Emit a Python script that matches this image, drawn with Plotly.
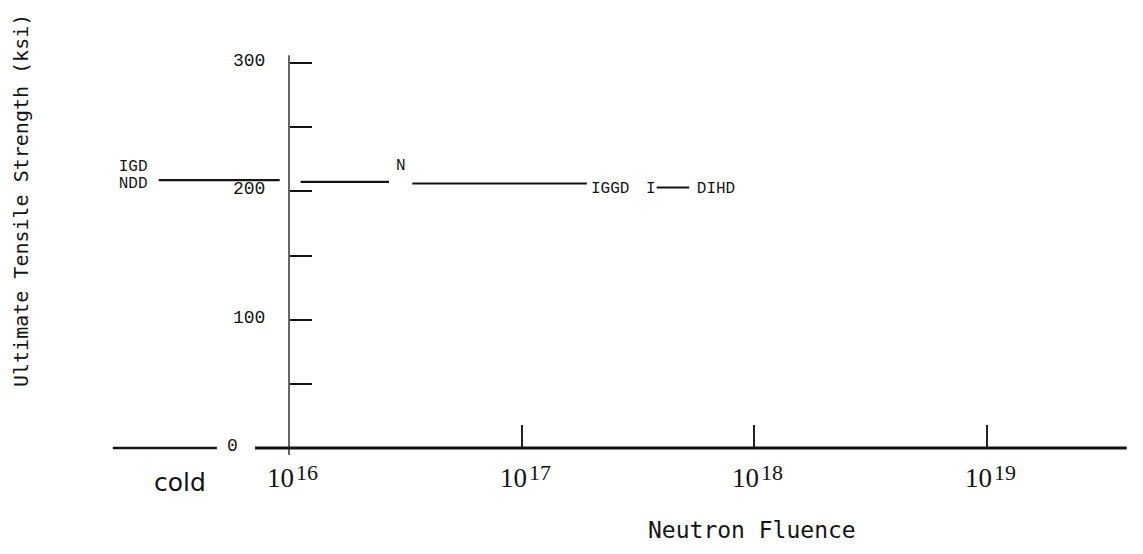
import plotly.graph_objects as go

# ---------------- data ----------------
# horizontal UTS segments (x in log10 of neutron fluence, "cold" region left of 1e16)
seg_x_start = [15.44, 16.05, 16.53, 17.58]
seg_x_end = [15.96, 16.43, 17.28, 17.72]
seg_uts = [208.8, 207.3, 206.1, 203.0]

# specimen letter markers
point_labels = ["IGD", "NDD", "N", "IGGD", "I", "DIHD"]
point_x = [15.33, 15.33, 16.48, 17.38, 17.555, 17.835]
point_uts = [219.0, 205.5, 219.5, 201.5, 201.5, 201.5]

y_tick_vals = [0, 50, 100, 150, 200, 250, 300]
y_label_vals = [100, 200, 300]
y_label_text = ["100", "200", "300"]
x_decades = [16, 17, 18, 19]
x_exponents = ["16", "17", "18", "19"]
cold_pos = 15.53
cold_text = "cold"

INK = "#141414"
W, H = 1135, 546   # page adds an 8px body margin

fig = go.Figure()

xs, ys = [], []
for a, b, v in zip(seg_x_start, seg_x_end, seg_uts):
    xs += [a, b, None]
    ys += [v, v, None]
fig.add_trace(go.Scatter(x=xs, y=ys, mode="lines",
                         line=dict(color=INK, width=2.2),
                         hoverinfo="skip", showlegend=False))

fig.add_trace(go.Scatter(x=point_x, y=point_uts, mode="text", text=point_labels,
                         textfont=dict(family="Liberation Mono", size=16, color=INK),
                         textposition="middle center", showlegend=False,
                         hoverinfo="skip"))

# axis lines (broken x axis like the original)
shapes = [
    dict(type="line", xref="x", yref="y", x0=16, x1=16, y0=-5.5, y1=306,
         line=dict(color="#333", width=1.5)),
    dict(type="line", xref="x", yref="y", x0=15.243, x1=15.69, y0=0, y1=0,
         line=dict(color=INK, width=2.6)),
    dict(type="line", xref="x", yref="y", x0=15.854, x1=19.60, y0=0, y1=0,
         line=dict(color=INK, width=2.8)),
]

ann = []
for v, t in zip(y_label_vals, y_label_text):
    ann.append(dict(x=16, y=v, xref="x", yref="y", text=t, showarrow=False,
                    xanchor="right", xshift=-22, yshift=2,
                    font=dict(family="Liberation Mono", size=18, color=INK)))
ann.append(dict(x=16, y=0, xref="x", yref="y", text="0", showarrow=False,
                xanchor="center", xshift=-57, yshift=2,
                font=dict(family="Liberation Mono", size=18, color=INK)))

for d, e in zip(x_decades, x_exponents):
    ann.append(dict(x=d, y=0, xref="x", yref="y", text="10", showarrow=False,
                    xanchor="right", yanchor="middle", xshift=7, yshift=-30,
                    font=dict(family="Liberation Serif", size=27, color=INK)))
    ann.append(dict(x=d, y=0, xref="x", yref="y", text=e, showarrow=False,
                    xanchor="left", yanchor="middle", xshift=5, yshift=-24,
                    font=dict(family="Liberation Serif", size=22, color=INK)))
ann.append(dict(x=cold_pos, y=0, xref="x", yref="y", text=cold_text, showarrow=False,
                xanchor="center", yanchor="middle", yshift=-34,
                font=dict(family="DejaVu Sans", size=25, color=INK)))

ann.append(dict(x=744 / W, y=1 - 522 / H, xref="paper", yref="paper",
                text="Neutron Fluence", showarrow=False,
                xanchor="center", yanchor="middle",
                font=dict(family="DejaVu Sans Mono", size=23, color=INK)))
ann.append(dict(x=13 / W, y=1 - 193 / H, xref="paper", yref="paper",
                text="Ultimate Tensile Strength (ksi)", showarrow=False,
                textangle=-90, xanchor="center", yanchor="middle",
                font=dict(family="DejaVu Sans Mono", size=20, color=INK)))

X0_PX, Y0_PX = 281, 440          # figure pixels of (1e16, 0 ksi)
PX_PER_DEC, PX_PER_KSI = 232.7, 385 / 300

fig.update_layout(
    width=W, height=H, margin=dict(l=0, r=0, t=0, b=0),
    paper_bgcolor="white", plot_bgcolor="white",
    shapes=shapes, annotations=ann,
    xaxis=dict(range=[16 - X0_PX / PX_PER_DEC, 16 + (W - X0_PX) / PX_PER_DEC],
               showgrid=False, zeroline=False, showline=False,
               ticks="inside", tickvals=x_decades[1:], ticklen=23, tickwidth=1.5,
               tickcolor="#222", showticklabels=False, anchor="free",
               position=(H - Y0_PX) / H, fixedrange=True),
    yaxis=dict(range=[-(H - Y0_PX) / PX_PER_KSI, Y0_PX / PX_PER_KSI],
               showgrid=False, zeroline=False, showline=False,
               ticks="inside", tickvals=y_tick_vals[1:], ticklen=22, tickwidth=2,
               tickcolor=INK, showticklabels=False, anchor="free",
               position=X0_PX / W, fixedrange=True),
)

fig.write_html("out.html")
